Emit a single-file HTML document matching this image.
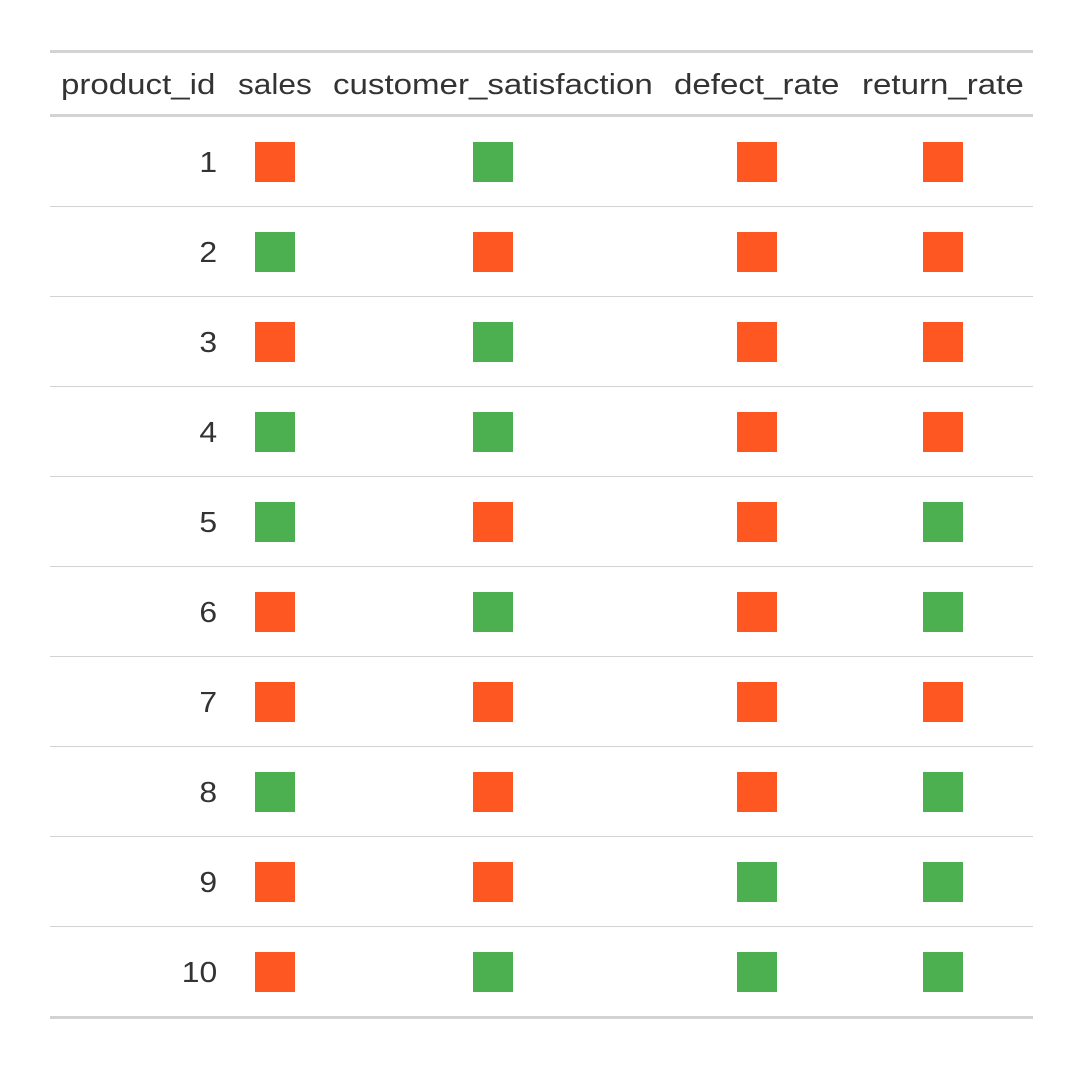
<!DOCTYPE html>
<html><head><meta charset="utf-8"><style>
body{margin:0;width:1084px;height:1070px;background:#fff;position:relative;font-family:"Liberation Sans",sans-serif;color:#333;overflow:hidden}
.h{position:absolute;top:68px;font-size:29px;line-height:34px;white-space:nowrap;transform:scaleX(1.14);transform-origin:0 0}
.line{position:absolute;left:50px;width:983px;background:#d3d3d3}
.n{position:absolute;right:867px;font-size:29px;line-height:34px;text-align:right;transform:scaleX(1.1);transform-origin:100% 0}
.s{position:absolute;width:40px;height:40px}
.o{background:#FF5722}.g{background:#4CAF50}
</style></head><body>
<div class="line" style="top:50px;height:3px"></div>
<div class="line" style="top:114px;height:3px"></div>
<div class="line" style="top:1016px;height:3px"></div>
<div class="h" style="left:61px">product_id</div>
<div class="h" style="left:238px;transform:scaleX(1.09)">sales</div>
<div class="h" style="left:333px">customer_satisfaction</div>
<div class="h" style="left:674px">defect_rate</div>
<div class="h" style="left:862px">return_rate</div>
<div id="rows"></div>
<script>
var d=[["o","g","o","o"],["g","o","o","o"],["o","g","o","o"],["g","g","o","o"],["g","o","o","g"],["o","g","o","g"],["o","o","o","o"],["g","o","o","g"],["o","o","g","g"],["o","g","g","g"]];
var xs=[255,473,737,923],h="";
for(var i=0;i<10;i++){var rt=117+i*90;
h+='<div class="n" style="top:'+(rt+29)+'px">'+(i+1)+'</div>';
for(var j=0;j<4;j++)h+='<div class="s '+d[i][j]+'" style="left:'+xs[j]+'px;top:'+(rt+25)+'px"></div>';
if(i<9)h+='<div class="line" style="top:'+(rt+89)+'px;height:1px"></div>';}
document.getElementById("rows").innerHTML=h;
</script>
</body></html>
